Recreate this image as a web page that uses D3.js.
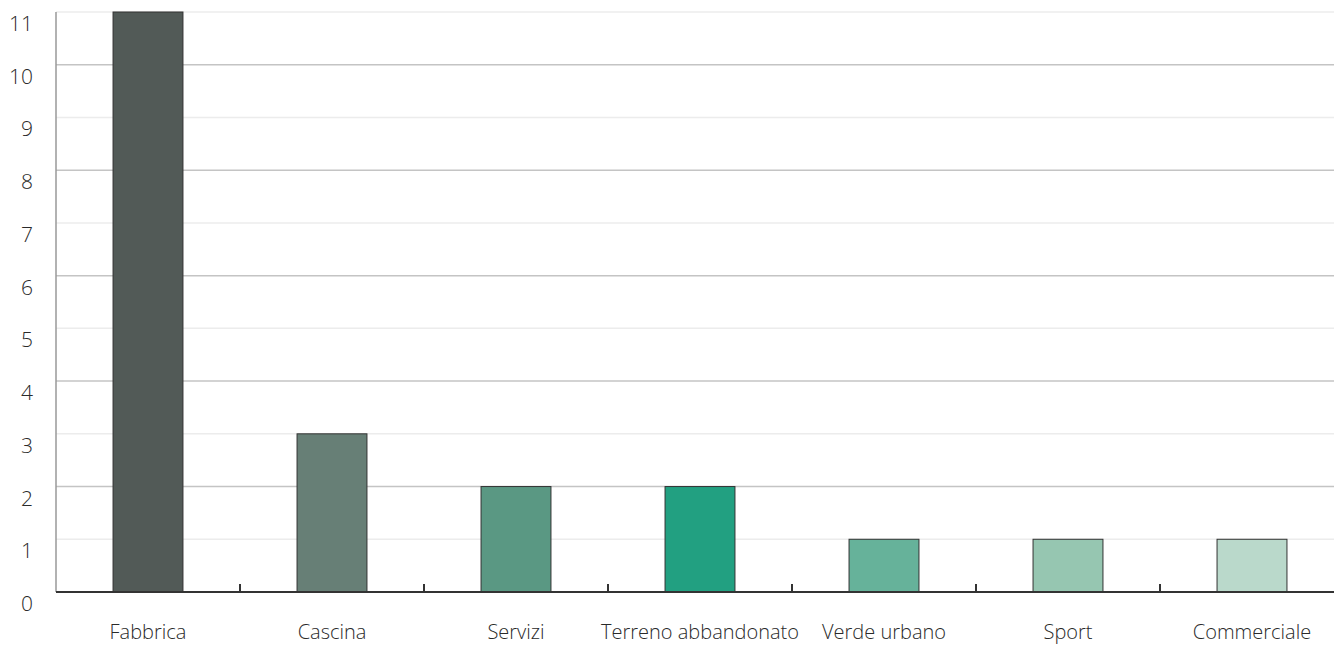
<!DOCTYPE html>
<html><head><meta charset="utf-8">
<script src="https://cdn.jsdelivr.net/npm/d3@7"></script>
<style>body{margin:0;background:#fff}svg{display:block}text{font-family:"Open Sans","Noto Sans",sans-serif;fill:#2a2a2a;font-weight:300}</style>
</head><body><svg id="c" width="1334" height="646"></svg>
<script>
const categories = ["Fabbrica","Cascina","Servizi","Terreno abbandonato","Verde urbano","Sport","Commerciale"];
const values = [11,3,2,2,1,1,1];
const colors = ["#525a57","#677f76","#5a9883","#22a081","#66b29a","#96c6b1","#bad9cb"];
const yTicks = [0,1,2,3,4,5,6,7,8,9,10,11];

(function(){
const svg = d3.select("#c");
const mLeft = 56, mBottom = 592, mTop = 12, W = 1334;
const x = d3.scaleBand().domain(categories).range([mLeft, mLeft + 7*184]).paddingInner(0.62).paddingOuter(0.31);
const y = d3.scaleLinear().domain([0,11]).range([mBottom, mTop]);

// gridlines
svg.append("g").selectAll("line").data(yTicks.filter(d=>d>0)).join("line")
  .attr("x1", mLeft).attr("x2", W).attr("y1", d=>y(d)).attr("y2", d=>y(d))
  .attr("stroke", d=> d%2===0 ? "#c4c4c4" : "#ececec").attr("stroke-width", 1.5);

// y labels
svg.append("g").selectAll("text").data(yTicks).join("text")
  .attr("x", 33).attr("y", d=>y(d)+19).attr("text-anchor","end")
  .style("font-size","21px").text(d=>d);

// left axis
svg.append("line").attr("x1",mLeft).attr("x2",mLeft).attr("y1",mTop).attr("y2",mBottom)
  .attr("stroke","#999").attr("stroke-width",1.5);

// bars
svg.append("g").selectAll("rect").data(values).join("rect")
  .attr("x",(d,i)=>x(categories[i])).attr("width",x.bandwidth())
  .attr("y",d=>y(d)).attr("height",d=>y(0)-y(d))
  .attr("fill",(d,i)=>colors[i]).attr("stroke","#333").attr("stroke-width",1);

// bottom axis
svg.append("line").attr("x1",mLeft).attr("x2",W).attr("y1",mBottom).attr("y2",mBottom)
  .attr("stroke","#333").attr("stroke-width",2);
const step = x.step();
svg.append("g").selectAll("line").data(categories.slice(1)).join("line")
  .attr("x1",d=>x(d)-step*0.31).attr("x2",d=>x(d)-step*0.31)
  .attr("y1",mBottom).attr("y2",mBottom-8).attr("stroke","#333").attr("stroke-width",2);

// category labels
svg.append("g").selectAll("text").data(categories).join("text")
  .attr("x",d=>x(d)+x.bandwidth()/2).attr("y",639).attr("text-anchor","middle")
  .style("font-size","20px").text(d=>d);
})();
</script></body></html>
